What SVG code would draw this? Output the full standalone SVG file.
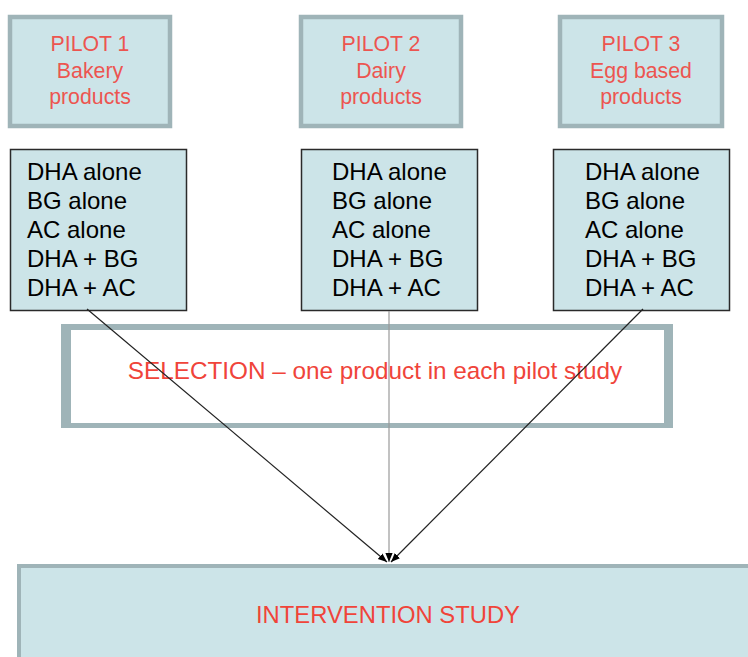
<svg xmlns="http://www.w3.org/2000/svg" width="748" height="657" viewBox="0 0 748 657">
<style>
.pilot{fill:#cce4e8;stroke:#9fb4b8;stroke-width:4.5}
.list{fill:#cce4e8;stroke:#2a2a2a;stroke-width:1.5}
.ht{font-family:"Liberation Sans",Arial,sans-serif;font-size:21.3px;fill:#ec5550;text-anchor:middle}
.lt{font-family:"Liberation Sans",Arial,sans-serif;font-size:24px;fill:#000}
.rt{font-family:"Liberation Sans",Arial,sans-serif;font-size:24.3px;fill:#f0443a;text-anchor:middle}
.conn{stroke:#222;stroke-width:1.2;fill:none}
</style>
<defs>
<marker id="ah" viewBox="0 0 10 10" refX="10" refY="5" markerWidth="9" markerHeight="9" markerUnits="userSpaceOnUse" orient="auto">
<path d="M0,1 L10,5 L0,9 Z" fill="#000"/>
</marker>
</defs>
<rect width="748" height="657" fill="#fff"/>
<g id="pilot1">
<rect class="pilot" x="10" y="17" width="160" height="109"/>
<text class="ht" x="90" y="51">PILOT 1</text>
<text class="ht" x="90" y="78">Bakery</text>
<text class="ht" x="90" y="104">products</text>
</g>
<g id="pilot2">
<rect class="pilot" x="301" y="17" width="160" height="109"/>
<text class="ht" x="381" y="51">PILOT 2</text>
<text class="ht" x="381" y="78">Dairy</text>
<text class="ht" x="381" y="104">products</text>
</g>
<g id="pilot3">
<rect class="pilot" x="560" y="17" width="162" height="109"/>
<text class="ht" x="641" y="51">PILOT 3</text>
<text class="ht" x="641" y="78">Egg based</text>
<text class="ht" x="641" y="104">products</text>
</g>
<g id="list1">
<rect class="list" x="10.5" y="149.5" width="176" height="161"/>
<text class="lt" x="27" y="180">DHA alone</text>
<text class="lt" x="27" y="208.5">BG alone</text>
<text class="lt" x="27" y="237.5">AC alone</text>
<text class="lt" x="27" y="266.5">DHA + BG</text>
<text class="lt" x="27" y="295.5">DHA + AC</text>
</g>
<g id="list2">
<rect class="list" x="301.5" y="149.5" width="176" height="161"/>
<text class="lt" x="332" y="180">DHA alone</text>
<text class="lt" x="332" y="208.5">BG alone</text>
<text class="lt" x="332" y="237.5">AC alone</text>
<text class="lt" x="332" y="266.5">DHA + BG</text>
<text class="lt" x="332" y="295.5">DHA + AC</text>
</g>
<g id="list3">
<rect class="list" x="553.5" y="149.5" width="176" height="161"/>
<text class="lt" x="585" y="180">DHA alone</text>
<text class="lt" x="585" y="208.5">BG alone</text>
<text class="lt" x="585" y="237.5">AC alone</text>
<text class="lt" x="585" y="266.5">DHA + BG</text>
<text class="lt" x="585" y="295.5">DHA + AC</text>
</g>
<g id="selection">
<rect x="61" y="324" width="612" height="104" fill="#9fb4b8"/>
<rect x="71" y="330" width="593" height="93" fill="#fff"/>
<text class="rt" x="375" y="379">SELECTION – one product in each pilot study</text>
</g>
<g id="intervention">
<rect x="17" y="564" width="740" height="100" fill="#9fb4b8"/>
<rect x="21" y="568" width="740" height="100" fill="#cce4e8"/>
<text class="rt" x="388" y="623" style="font-size:23.8px">INTERVENTION STUDY</text>
</g>
<g id="connectors">
<line class="conn" x1="87" y1="309" x2="387" y2="562" marker-end="url(#ah)"/>
<line x1="389" y1="311" x2="389" y2="562" stroke="#999" stroke-width="1.2" marker-end="url(#ah)"/>
<line class="conn" x1="643" y1="309" x2="391" y2="562" marker-end="url(#ah)"/>
</g>
</svg>
